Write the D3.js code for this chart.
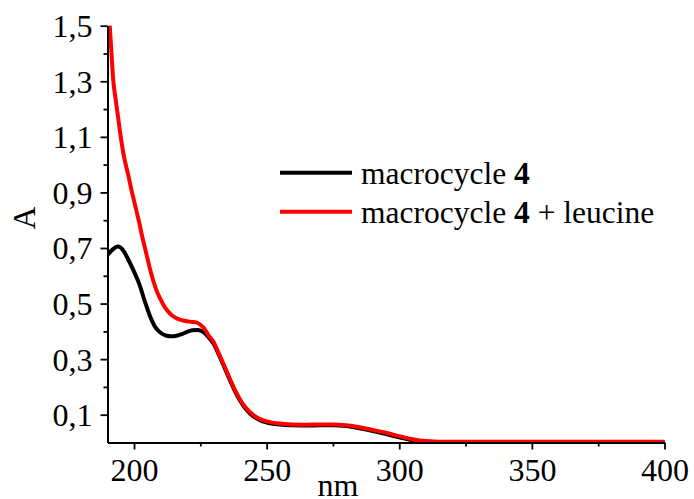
<!DOCTYPE html>
<html>
<head>
<meta charset="utf-8">
<script src="https://cdn.jsdelivr.net/npm/d3@7"></script>
</head>
<body style="margin:0;background:#fff">
<svg id="chart" width="694" height="499"></svg>
<script>
// ---- data ----
const blackNm = [190, 192, 194, 196, 198, 200, 202, 204, 206, 208, 210, 212, 214, 216, 218, 220, 222, 224, 226, 228, 230, 232, 234, 236, 238, 240, 242, 244, 246, 248, 250, 255, 260, 265, 270, 275, 280, 285, 290, 295, 300, 305, 310, 320, 340, 360, 380, 400];
const blackA  = [0.675, 0.695, 0.705, 0.69, 0.655, 0.615, 0.57, 0.51, 0.455, 0.415, 0.395, 0.385, 0.382, 0.384, 0.39, 0.398, 0.404, 0.405, 0.398, 0.38, 0.355, 0.315, 0.272, 0.228, 0.186, 0.15, 0.122, 0.102, 0.088, 0.078, 0.072, 0.065, 0.062, 0.061, 0.062, 0.062, 0.059, 0.051, 0.041, 0.03, 0.019, 0.008, 0.003, 0.002, 0.002, 0.002, 0.002, 0.002];

const redNm = [190.85, 191.5, 192.2, 193, 194, 195, 196, 197, 198, 199, 200, 201, 202, 203, 204, 205, 206, 207, 208, 209, 210, 211, 212, 213, 214, 215, 216, 218, 220, 222, 224, 226, 227, 228, 230, 232, 234, 236, 238, 240, 242, 244, 246, 248, 250, 255, 260, 265, 270, 275, 280, 285, 290, 295, 300, 305, 310, 315, 320, 340, 360, 380, 400];
const redA  = [1.5, 1.4, 1.3, 1.24, 1.17, 1.1, 1.04, 0.995, 0.955, 0.91, 0.87, 0.83, 0.79, 0.745, 0.705, 0.665, 0.625, 0.59, 0.56, 0.535, 0.515, 0.497, 0.482, 0.47, 0.46, 0.453, 0.447, 0.44, 0.436, 0.434, 0.43, 0.415, 0.403, 0.387, 0.362, 0.32, 0.277, 0.232, 0.19, 0.154, 0.127, 0.107, 0.092, 0.082, 0.076, 0.068, 0.065, 0.064, 0.065, 0.065, 0.062, 0.055, 0.045, 0.035, 0.023, 0.012, 0.005, 0.003, 0.003, 0.003, 0.003, 0.003, 0.003];

const seriesNames = ["macrocycle ", "macrocycle "];
const seriesBold = ["4", "4"];
const seriesSuffix = ["", " + leucine"];
const seriesColors = ["#000000", "#ff0000"];

const xMajor = [200, 250, 300, 350, 400];
const xMinor = [225, 275, 325, 375];
const yMajor = [0.1, 0.3, 0.5, 0.7, 0.9, 1.1, 1.3, 1.5];
const yMinor = [0.2, 0.4, 0.6, 0.8, 1.0, 1.2, 1.4];

const xLabel = "nm";
const yLabel = "A";

// ---- layout ----
const FONT = "Liberation Serif";
const svg = d3.select("#chart");
const mLeft = 107.5, mRight = 664.5, mTop = 25.7, mBottom = 442.5;

const x = d3.scaleLinear().domain([190, 400]).range([mLeft, mRight]);
const y = d3.scaleLinear().domain([0, 1.5]).range([mBottom, mTop]);

svg.append("rect").attr("width", 694).attr("height", 499).attr("fill", "#fff");

const fmt = v => d3.format(".1f")(v).replace(".", ",");

// curves
svg.append("clipPath").attr("id", "clip").append("rect")
  .attr("x", mLeft).attr("y", mTop - 1).attr("width", mRight - mLeft + 2).attr("height", mBottom - mTop + 1);

const line = d3.line().x(d => x(d[0])).y(d => y(d[1])).curve(d3.curveMonotoneX);

const blackData = blackNm.map((v, i) => [v, blackA[i]]);
const redData = redNm.map((v, i) => [v, redA[i]]);

const g = svg.append("g").attr("clip-path", "url(#clip)");
g.append("path").datum(blackData).attr("d", line)
  .attr("fill", "none").attr("stroke", seriesColors[0]).attr("stroke-width", 4).attr("stroke-linejoin", "round");
g.append("path").datum(redData).attr("d", line)
  .attr("fill", "none").attr("stroke", seriesColors[1]).attr("stroke-width", 4).attr("stroke-linejoin", "round");

// axes
const axisY = svg.append("g").attr("transform", `translate(${mLeft},0)`)
  .call(d3.axisLeft(y).tickValues(yMajor).tickFormat(fmt).tickSize(7).tickPadding(8).tickSizeOuter(0));
const axisYMinor = svg.append("g").attr("transform", `translate(${mLeft},0)`)
  .call(d3.axisLeft(y).tickValues(yMinor).tickFormat("").tickSize(4).tickSizeOuter(0));
const axisX = svg.append("g").attr("transform", `translate(0,${mBottom})`)
  .call(d3.axisBottom(x).tickValues(xMajor).tickFormat(d3.format("d")).tickSize(7).tickPadding(9).tickSizeOuter(0));
const axisXMinor = svg.append("g").attr("transform", `translate(0,${mBottom})`)
  .call(d3.axisBottom(x).tickValues(xMinor).tickFormat("").tickSize(4).tickSizeOuter(0));

[axisY, axisYMinor, axisX, axisXMinor].forEach(a => {
  a.attr("font-family", null).attr("font-size", null);
  a.selectAll("path.domain").attr("stroke", "#000").attr("stroke-width", 2);
  a.selectAll(".tick line").attr("stroke", "#000").attr("stroke-width", 1.8);
  a.selectAll(".tick text").attr("fill", "#000").attr("font-size", 32);
});
axisY.selectAll(".tick text").attr("dy", "0.34em");

// axis labels
svg.append("text").attr("transform", "translate(35,218) rotate(-90)")
  .attr("text-anchor", "middle").attr("font-size", 32).attr("fill", "#000").text(yLabel);
svg.append("text").attr("x", 338).attr("y", 496)
  .attr("text-anchor", "middle").attr("font-size", 32).attr("fill", "#000").text(xLabel);

// legend
const legY = [172.7, 211.7];
seriesColors.forEach((c, i) => {
  svg.append("line").attr("x1", 280).attr("x2", 352).attr("y1", legY[i]).attr("y2", legY[i])
    .attr("stroke", c).attr("stroke-width", 4);
  const t = svg.append("text").attr("x", 361).attr("y", legY[i] + 10.8)
    .attr("font-size", 31.5).attr("fill", "#000");
  t.append("tspan").text(seriesNames[i]);
  t.append("tspan").attr("font-weight", "bold").text(seriesBold[i]);
  if (seriesSuffix[i]) t.append("tspan").text(seriesSuffix[i]);
});

// apply font to every text element
svg.selectAll("text, tspan").attr("font-family", FONT).style("font-family", FONT, "important");
</script>
</body>
</html>
